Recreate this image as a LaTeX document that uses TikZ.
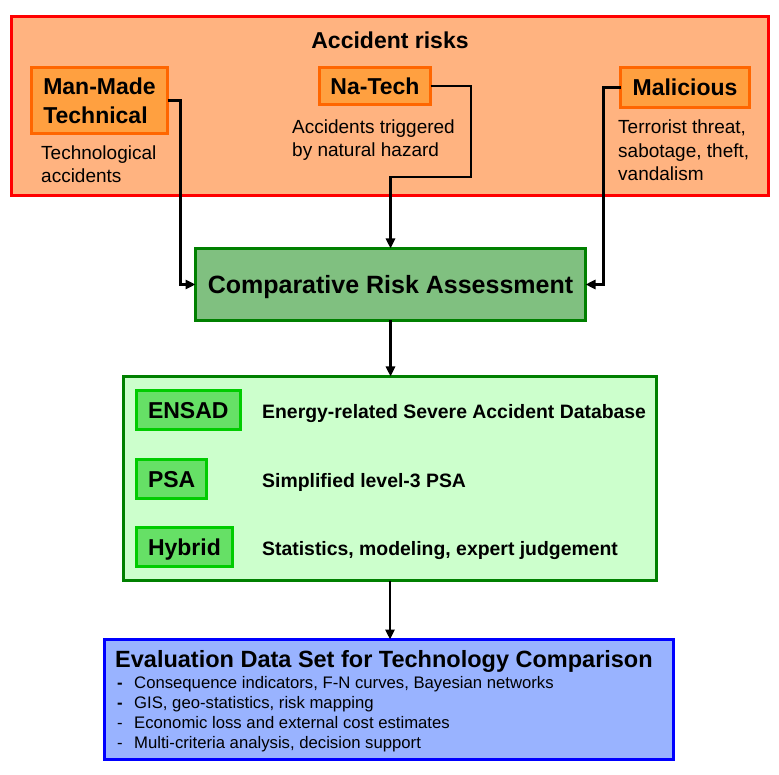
\documentclass[tikz,border=0pt]{standalone}
\usepackage{fontspec}
\setmainfont{Liberation Sans}
\usepackage{xcolor}
\usepackage{tikz}
\usetikzlibrary{positioning,calc,arrows.meta}

\definecolor{riskfill}{HTML}{FFB380}
\definecolor{typefill}{HTML}{FFA040}
\definecolor{typeline}{HTML}{FF6600}
\definecolor{crafill}{HTML}{80C080}
\definecolor{darkgreen}{HTML}{008000}
\definecolor{methfill}{HTML}{CCFFCC}
\definecolor{itemfill}{HTML}{66E066}
\definecolor{itemline}{HTML}{00CC00}
\definecolor{evalfill}{HTML}{99B3FF}

\newcommand{\hugebf}{\fontsize{25}{30}\selectfont\bfseries}
\newcommand{\bigbf}{\fontsize{23}{29}\selectfont\bfseries}
\newcommand{\midbf}{\fontsize{19.4}{23}\selectfont\bfseries}
\newcommand{\midrm}{\fontsize{19}{23}\selectfont}
\newcommand{\smallrm}{\fontsize{16.7}{20}\selectfont}

\begin{document}
\begin{tikzpicture}[x=1pt,y=-1pt,
    panel/.style={draw, line width=3pt, inner sep=0pt, outer sep=0pt},
    typebox/.style={draw=typeline, fill=typefill, line width=3pt, inner sep=0pt, outer sep=0pt, font=\bigbf, align=left},
    itembox/.style={draw=itemline, fill=itemfill, line width=3pt, inner xsep=11.5pt, inner ysep=0pt, outer sep=0pt,
        minimum height=39pt, text height=16.5pt, text depth=0pt, font=\bigbf, anchor=base west},
    desc/.style={anchor=base west, inner sep=0pt, align=left, font=\midrm},
    link/.style={line width=2.7pt, -{Triangle[length=10pt,width=9pt]}}]
    \useasboundingbox (0,0) rectangle (779,775);

    % accident risks
    \node[panel, draw=red, fill=riskfill, minimum width=757pt, minimum height=179pt] (risks) at (390,106.5) {};
    \node[anchor=base, font=\bigbf] (risktitle) at (390,49) {Accident risks};

    \node[typebox, minimum width=136pt, minimum height=66pt] (mm) at (99.5,100.5) {Man-Made\\Technical};
    \node[typebox, minimum width=111pt, minimum height=37pt] (nt) at (375,86) {Na-Tech};
    \node[typebox, minimum width=129pt, minimum height=40pt] (mal) at (685,87.5) {Malicious};

    % multi-line texts sit on their last line
    \node[desc] (mmtext) at (41,183) {Technological\\accidents};
    \node[desc] (nttext) at (292,157) {Accidents triggered\\by natural hazard};
    \node[desc, font=\fontsize{19}{23.5}\selectfont] (maltext) at (618,181) {Terrorist threat,\\sabotage, theft,\\vandalism};

    % assessment
    \node[panel, draw=darkgreen, fill=crafill, minimum width=390pt, minimum height=72pt,
        font=\hugebf, text height=18pt, text depth=0pt] (cra) at (390.5,284.5) {Comparative Risk Assessment};

    % methods
    \node[panel, draw=darkgreen, fill=methfill, minimum width=533pt, minimum height=204pt] (methods) at (390,478.5) {};
    \node[itembox] (ensad) at (136.5,418) {ENSAD};
    \node[itembox] (psa) at (136.5,487) {PSA};
    \node[itembox] (hybrid) at (136.5,555) {Hybrid};
    \node[desc, font=\midbf] (ensadtext) at (262,418) {Energy-related Severe Accident Database};
    \node[desc, font=\midbf] (psatext) at (262,487) {Simplified level-3 PSA};
    \node[desc, font=\midbf] (hybridtext) at (262,555) {Statistics, modeling, expert judgement};

    % evaluation
    \node[panel, draw=blue, fill=evalfill, minimum width=569pt, minimum height=120pt] (eval) at (389,699.5) {};
    \node[anchor=base west, inner sep=0pt, font=\fontsize{23.5}{28}\selectfont\bfseries] (evaltitle) at (115,667)
        {Evaluation Data Set for Technology Comparison};
    \node[desc, font=\smallrm] (evallist) at (117,748)
        {\makebox[17pt][l]{\bfseries -}Consequence indicators, F-N curves, Bayesian networks\\
         \makebox[17pt][l]{\bfseries -}GIS, geo-statistics, risk mapping\\
         \makebox[17pt][l]{-}Economic loss and external cost estimates\\
         \makebox[17pt][l]{-}Multi-criteria analysis, decision support};

    % connectors
    \coordinate (ntbend) at (471,177);
    \draw[link] (mm.east) -- ++(13,0) |- (cra.west);
    \draw[link] (nt.east) -| (ntbend) -| (cra.north);
    \draw[link] (mal.west) -- ++(-17,0) |- (cra.east);
    \draw[link] (cra.south) -- (cra.south |- methods.north);
    \draw[link] (methods.south) -- (methods.south |- eval.north);
\end{tikzpicture}
\end{document}
